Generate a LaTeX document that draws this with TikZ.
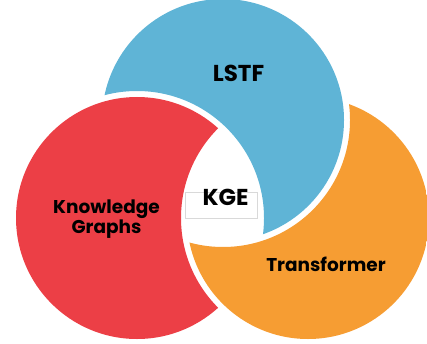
\documentclass[tikz,border=0pt]{standalone}
\usepackage{fontspec, tikz, tkz-euclide, xcolor}
\setmainfont{Poppins}
\definecolor{lstfblue}{HTML}{5FB4D6}
\definecolor{kgred}{HTML}{EC3F46}
\definecolor{tforange}{HTML}{F69D33}

\begin{document}
\begin{tikzpicture}[x=1pt, y=1pt,
    bigtext/.style={font=\bfseries\fontsize{23}{25}\selectfont},
    smalltext/.style={font=\bfseries\fontsize{18.5}{17}\selectfont, align=center}]
    \useasboundingbox (0,0) rectangle (427,343);
    \tkzDefPoints{223/223/B, 137/125/R, 308/125/O}
    \def\rad{121}
    \def\cut{127}
    % blue, cut by red
    \begin{scope}
        \clip (B) circle (\rad);
        \fill[lstfblue, even odd rule] (-20,-20) rectangle (450,370) (R) circle (\cut);
    \end{scope}
    % red, cut by orange
    \begin{scope}
        \clip (R) circle (\rad);
        \fill[kgred, even odd rule] (-20,-20) rectangle (450,370) (O) circle (\cut);
    \end{scope}
    % orange, cut by blue
    \begin{scope}
        \clip (O) circle (\rad);
        \fill[tforange, even odd rule] (-20,-20) rectangle (450,370) (B) circle (\cut);
    \end{scope}
    \node[bigtext] (lstf) at (238.5,270) {LSTF};
    \node[draw=black!15, minimum width=72, minimum height=26] (kgebox) at (221,138) {};
    \node[bigtext] (kge) at (225.5,146) {KGE};
    \node[smalltext] (kg) at (106.5,124) {Knowledge\\Graphs};
    \node[smalltext] (tf) at (326,79) {Transformer};
\end{tikzpicture}
\end{document}
